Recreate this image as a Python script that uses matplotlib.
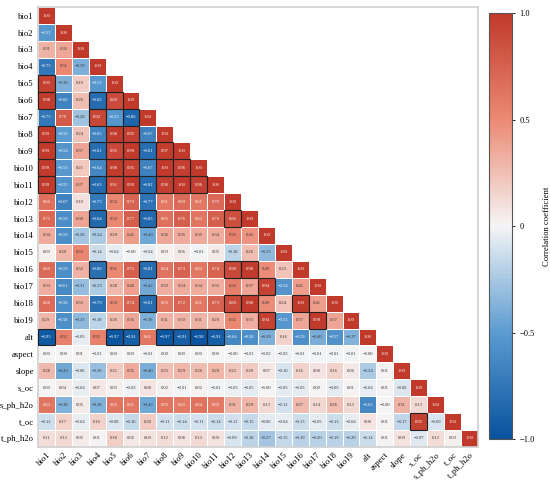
import numpy as np
import matplotlib
matplotlib.use("Agg")
import matplotlib.pyplot as plt
from matplotlib.colors import LinearSegmentedColormap
from matplotlib.patches import Rectangle
from matplotlib.ticker import FixedLocator, FixedFormatter

plt.rcParams['font.family'] = ['Liberation Serif', 'DejaVu Serif']

labels = ['bio1', 'bio2', 'bio3', 'bio4', 'bio5', 'bio6', 'bio7', 'bio8', 'bio9', 'bio10',
          'bio11', 'bio12', 'bio13', 'bio14', 'bio15', 'bio16', 'bio17', 'bio18', 'bio19',
          'alt', 'aspect', 'slope', 's_oc', 's_ph_h2o', 't_oc', 't_ph_h2o']

# lower-triangle rows (including diagonal)
rows = [
    [1.00],
    [-0.53, 1.00],
    [0.31, 0.36, 1.00],
    [-0.75, 0.51, -0.39, 1.00],
    [0.95, -0.39, 0.19, -0.53, 1.00],
    [0.98, -0.66, 0.26, -0.82, 0.89, 1.00],
    [-0.75, 0.79, -0.28, 0.92, -0.53, -0.86, 1.00],
    [0.99, -0.50, 0.24, -0.65, 0.98, 0.95, -0.67, 1.00],
    [0.99, -0.54, 0.37, -0.81, 0.91, 0.99, -0.81, 0.97, 1.00],
    [0.99, -0.51, 0.21, -0.64, 0.98, 0.95, -0.67, 1.00, 0.96, 1.00],
    [0.99, -0.55, 0.37, -0.83, 0.91, 0.99, -0.82, 0.96, 1.00, 0.96, 1.00],
    [0.66, -0.67, 0.10, -0.73, 0.52, 0.73, -0.77, 0.61, 0.69, 0.61, 0.70, 1.00],
    [0.71, -0.59, 0.38, -0.84, 0.52, 0.77, -0.85, 0.65, 0.76, 0.63, 0.76, 0.86, 1.00],
    [0.34, -0.59, -0.26, -0.24, 0.29, 0.41, -0.43, 0.36, 0.35, 0.35, 0.34, 0.55, 0.45, 1.00],
    [0.03, 0.29, 0.53, -0.14, -0.04, -0.00, -0.04, 0.03, 0.06, -0.01, 0.05, -0.18, 0.26, -0.33, 1.00],
    [0.69, -0.59, 0.32, -0.80, 0.51, 0.75, -0.81, 0.64, 0.73, 0.62, 0.74, 0.90, 0.98, 0.49, 0.23, 1.00],
    [0.33, -0.61, -0.31, -0.23, 0.28, 0.40, -0.42, 0.33, 0.34, 0.34, 0.33, 0.56, 0.37, 0.94, -0.54, 0.41, 1.00],
    [0.68, -0.58, 0.33, -0.79, 0.50, 0.74, -0.81, 0.63, 0.72, 0.61, 0.73, 0.89, 0.98, 0.49, 0.24, 1.00, 0.41, 1.00],
    [0.29, -0.58, -0.33, -0.18, 0.26, 0.36, -0.38, 0.31, 0.30, 0.31, 0.29, 0.51, 0.33, 0.94, -0.53, 0.37, 0.99, 0.37, 1.00],
    [-0.95, 0.55, -0.05, 0.55, -0.97, -0.91, 0.61, -0.97, -0.91, -0.98, -0.91, -0.64, -0.58, -0.39, 0.16, -0.59, -0.40, -0.57, -0.37, 1.00],
    [0.00, 0.00, 0.01, -0.01, 0.00, 0.00, -0.01, 0.00, 0.00, 0.00, 0.00, -0.00, -0.01, -0.02, -0.02, -0.01, -0.01, -0.01, -0.01, -0.00, 1.00],
    [0.28, -0.43, -0.08, -0.30, 0.21, 0.35, -0.40, 0.25, 0.29, 0.26, 0.29, 0.22, 0.20, 0.07, -0.10, 0.16, 0.08, 0.16, 0.06, -0.24, 0.01, 1.00],
    [0.00, 0.04, -0.04, 0.07, 0.03, -0.02, 0.08, 0.02, -0.01, 0.02, -0.01, -0.03, -0.05, -0.00, -0.05, -0.05, 0.00, -0.05, 0.01, -0.04, 0.01, -0.08, 1.00],
    [0.63, -0.38, 0.05, -0.38, 0.63, 0.61, -0.43, 0.63, 0.60, 0.64, 0.60, 0.31, 0.29, 0.13, -0.11, 0.27, 0.14, 0.26, 0.13, -0.63, -0.00, 0.31, 0.13, 1.00],
    [-0.12, 0.17, -0.04, 0.16, -0.08, -0.16, 0.20, -0.11, -0.14, -0.11, -0.14, -0.11, -0.15, -0.06, -0.04, -0.13, -0.05, -0.13, -0.04, 0.08, 0.01, -0.17, 0.95, -0.09, 1.00],
    [0.11, 0.13, 0.05, 0.01, 0.18, 0.06, 0.09, 0.12, 0.08, 0.13, 0.09, -0.09, -0.18, -0.27, -0.15, -0.19, -0.20, -0.19, -0.20, -0.14, 0.01, 0.09, -0.07, 0.12, 0.03, 1.00],
]

cbar_ticks = [-1.0, -0.5, 0.0, 0.5, 1.0]
cbar_ticklabels = ['\u22121.0', '\u22120.5', '0', '0.5', '1.0']

n = len(labels)
M = np.full((n, n), np.nan)
for i, r in enumerate(rows):
    M[i, :len(r)] = r
data = np.ma.masked_invalid(M)

cmap = LinearSegmentedColormap.from_list(
    'rb', ['#08529e', '#5b9bd0', '#f5f5f5', '#ec8a74', '#c0392b'])

fig = plt.figure(figsize=(5.5, 4.8), dpi=100)
ax = fig.add_axes([0.069, 0.069, 0.80, 0.916])
mesh = ax.pcolormesh(np.arange(n + 1), np.arange(n + 1), data, cmap=cmap,
                     vmin=-1, vmax=1, edgecolors='white', linewidth=0.6)
ax.set_xlim(0, n)
ax.set_ylim(n, 0)
ax.set_aspect('auto')

for i in range(n):
    for j in range(i + 1):
        v = M[i, j]
        rgba = cmap((v + 1) / 2)
        lum = 0.299 * rgba[0] + 0.587 * rgba[1] + 0.114 * rgba[2]
        col = 'white' if lum < 0.6 else '#333333'
        txt = f'{v:.2f}'.replace('-', '\u2212')
        ax.text(j + 0.5, i + 0.5, txt, ha='center', va='center',
                fontsize=3.3, color=col)
        if i != j and abs(v) >= 0.8:
            ax.add_patch(Rectangle((j, i), 1, 1, fill=False,
                                   edgecolor='#222222', linewidth=0.8, zorder=3))

ax.set_xticks(np.arange(n) + 0.5)
ax.set_yticks(np.arange(n) + 0.5)
ax.set_xticklabels(labels, rotation=45, ha='right', rotation_mode='anchor', fontsize=6.2)
ax.set_yticklabels(labels, fontsize=6.2)
ax.tick_params(length=0, pad=3)
for s in ax.spines.values():
    s.set_color('#d0d0d0')
    s.set_linewidth(1.2)

cax = fig.add_axes([0.889, 0.085, 0.042, 0.888])
cb = fig.colorbar(mesh, cax=cax)
cb.outline.set_edgecolor('#555555')
cb.outline.set_linewidth(0.8)
cb.ax.yaxis.set_major_locator(FixedLocator(cbar_ticks))
cb.ax.yaxis.set_major_formatter(FixedFormatter(cbar_ticklabels))
cb.ax.tick_params(labelsize=6, length=2, width=0.6)
cb.set_label('Correlation coefficient', fontsize=6.2, labelpad=6)

fig.savefig('out.png', dpi=100)
